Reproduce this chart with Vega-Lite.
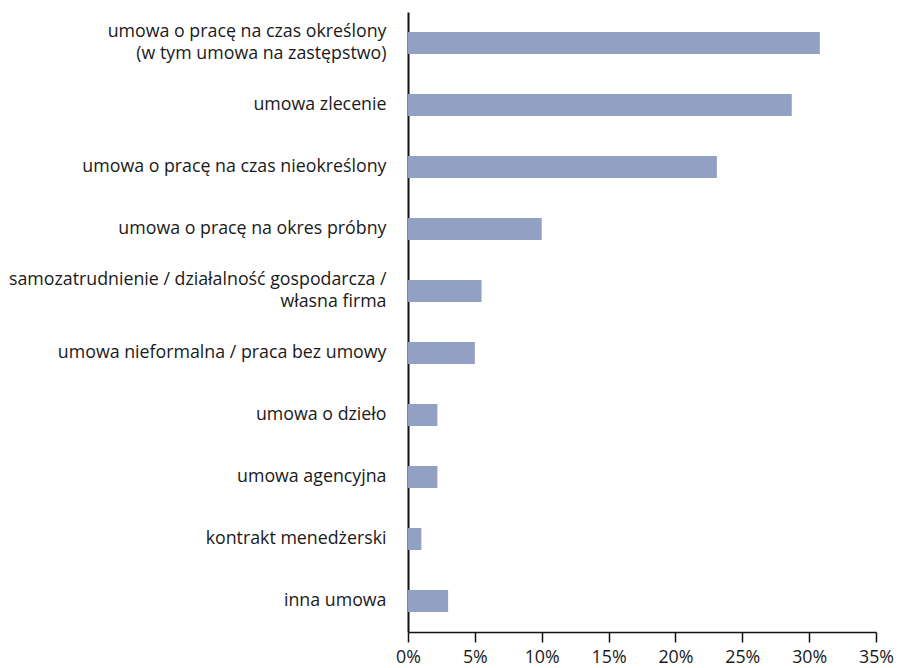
{
  "$schema": "https://vega.github.io/schema/vega-lite/v6.json",
  "autosize": "none",
  "width": 468,
  "height": 620,
  "padding": {"left": 408, "top": 12, "right": 24, "bottom": 36},
  "background": "white",
  "config": {"view": {"stroke": null}, "font": "Open Sans"},
  "data": {"values": [
    {"kategoria": "umowa o pracę na czas określony|(w tym umowa na zastępstwo)", "udzial": 0.308},
    {"kategoria": "umowa zlecenie", "udzial": 0.287},
    {"kategoria": "umowa o pracę na czas nieokreślony", "udzial": 0.231},
    {"kategoria": "umowa o pracę na okres próbny", "udzial": 0.100},
    {"kategoria": "samozatrudnienie / działalność gospodarcza /|własna firma", "udzial": 0.055},
    {"kategoria": "umowa nieformalna / praca bez umowy", "udzial": 0.050},
    {"kategoria": "umowa o dzieło", "udzial": 0.022},
    {"kategoria": "umowa agencyjna", "udzial": 0.022},
    {"kategoria": "kontrakt menedżerski", "udzial": 0.010},
    {"kategoria": "inna umowa", "udzial": 0.030}
  ]},
  "mark": {"type": "bar", "color": "#91a0c3", "size": 22},
  "encoding": {
    "y": {
      "field": "kategoria", "type": "nominal", "sort": null, "title": null,
      "scale": {"paddingInner": 0, "paddingOuter": 0},
      "axis": {
        "labelExpr": "split(datum.label, '|')",
        "labelFontSize": 17.8, "labelColor": "#1a1a1a", "labelLineHeight": 22,
        "labelOffset": {"condition": {"test": "indexof(datum.value, '|') >= 0", "value": -11}, "value": 0},
        "labelPadding": 22, "ticks": false, "labelLimit": 420,
        "domainColor": "#111111", "domainWidth": 2
      }
    },
    "x": {
      "field": "udzial", "type": "quantitative", "title": null,
      "scale": {"domain": [0, 0.35], "nice": false},
      "axis": {
        "values": [0, 0.05, 0.1, 0.15, 0.2, 0.25, 0.3, 0.35],
        "format": ".0%", "grid": false, "labelFontSize": 17.8, "labelColor": "#1a1a1a",
        "tickSize": 10, "tickColor": "#111111", "tickWidth": 1.5,
        "domainColor": "#111111", "domainWidth": 1.5, "labelPadding": 6,
        "labelFlush": false
      }
    }
  }
}
